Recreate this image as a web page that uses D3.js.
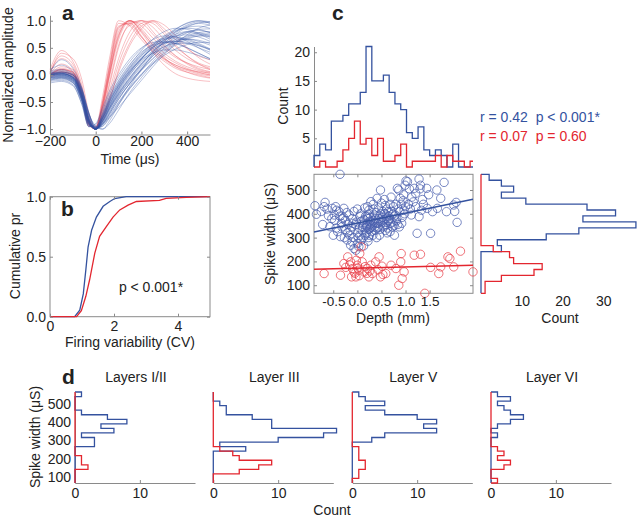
<!DOCTYPE html>
<html><head><meta charset="utf-8">
<script src="https://cdn.jsdelivr.net/npm/d3@7"></script>
<style>
body{margin:0;background:#fff;}
svg{display:block;font-family:"Liberation Sans",Arial,sans-serif;}
</style></head><body>
<svg id="fig" width="640" height="519"></svg>
<script>
// ---------------- DATA ----------------
const waveTimes = [-200,-150,-100,-60,-30,0,30,60,100,150,200,250,300,350,400,450,500];
const blueWaves = [
[0.00,0.02,-0.05,-0.40,-0.85,-1.00,-0.80,-0.55,-0.25,0.05,0.30,0.50,0.65,0.75,0.80,0.78,0.72],
[-0.05,-0.03,-0.10,-0.45,-0.90,-0.98,-0.85,-0.62,-0.35,-0.05,0.20,0.42,0.60,0.72,0.78,0.76,0.70],
[0.05,0.05,0.00,-0.30,-0.75,-1.00,-0.90,-0.70,-0.40,-0.10,0.15,0.38,0.58,0.75,0.88,0.95,0.92],
[-0.10,-0.08,-0.15,-0.50,-0.95,-0.95,-0.75,-0.45,-0.15,0.15,0.40,0.58,0.68,0.70,0.66,0.58,0.48],
[0.00,0.05,0.00,-0.35,-0.80,-1.00,-0.88,-0.65,-0.38,-0.12,0.10,0.30,0.48,0.62,0.72,0.78,0.80],
[-0.02,0.00,-0.08,-0.42,-0.88,-1.00,-0.78,-0.50,-0.20,0.10,0.35,0.55,0.72,0.85,0.95,1.00,0.98],
[0.08,0.10,0.02,-0.25,-0.70,-0.98,-0.95,-0.80,-0.55,-0.25,0.00,0.25,0.45,0.60,0.70,0.75,0.76],
[-0.08,-0.05,-0.12,-0.48,-0.92,-0.96,-0.70,-0.40,-0.10,0.20,0.42,0.55,0.60,0.58,0.50,0.40,0.30],
[0.02,0.03,-0.04,-0.38,-0.82,-1.00,-0.85,-0.60,-0.30,0.00,0.28,0.52,0.70,0.82,0.86,0.84,0.78],
[-0.05,-0.02,-0.08,-0.40,-0.86,-1.00,-0.82,-0.58,-0.28,0.02,0.25,0.45,0.58,0.65,0.66,0.62,0.55],
[0.00,0.00,-0.06,-0.36,-0.84,-0.99,-0.90,-0.72,-0.45,-0.15,0.10,0.35,0.55,0.70,0.80,0.82,0.78],
[-0.12,-0.10,-0.18,-0.55,-0.96,-0.92,-0.65,-0.35,-0.05,0.25,0.48,0.65,0.72,0.70,0.62,0.50,0.38],
[0.03,0.06,-0.02,-0.32,-0.78,-1.00,-0.92,-0.75,-0.50,-0.22,0.02,0.22,0.40,0.55,0.66,0.72,0.74],
[-0.04,-0.02,-0.10,-0.44,-0.90,-1.00,-0.80,-0.52,-0.22,0.08,0.32,0.52,0.68,0.80,0.88,0.90,0.86],
[0.00,0.02,-0.04,-0.30,-0.72,-0.96,-1.00,-0.85,-0.55,-0.20,0.10,0.38,0.62,0.80,0.92,0.98,0.96],
[-0.06,-0.04,-0.12,-0.46,-0.90,-0.98,-0.78,-0.50,-0.18,0.12,0.36,0.52,0.60,0.62,0.58,0.50,0.42],
[0.04,0.04,-0.03,-0.34,-0.80,-1.00,-0.86,-0.64,-0.36,-0.08,0.18,0.42,0.62,0.78,0.90,0.96,0.98],
[-0.02,0.00,-0.07,-0.40,-0.85,-1.00,-0.84,-0.60,-0.32,-0.04,0.22,0.40,0.52,0.58,0.58,0.54,0.48],
[0.00,0.01,-0.05,-0.38,-0.84,-1.00,-0.82,-0.56,-0.26,0.04,0.30,0.50,0.64,0.72,0.74,0.70,0.62],
[-0.08,-0.06,-0.14,-0.50,-0.93,-0.97,-0.74,-0.46,-0.16,0.14,0.38,0.56,0.66,0.68,0.64,0.56,0.46],
[0.06,0.08,0.00,-0.28,-0.74,-0.98,-0.94,-0.78,-0.52,-0.24,0.00,0.20,0.36,0.48,0.56,0.60,0.60],
[0.02,0.03,-0.05,-0.38,-0.82,-1.00,-0.88,-0.68,-0.42,-0.16,0.08,0.30,0.50,0.66,0.78,0.84,0.85],
[-0.03,-0.01,-0.08,-0.42,-0.87,-1.00,-0.80,-0.54,-0.24,0.06,0.30,0.48,0.58,0.62,0.60,0.54,0.46],
[0.00,0.02,-0.04,-0.36,-0.82,-1.00,-0.86,-0.62,-0.34,-0.06,0.20,0.44,0.66,0.84,0.96,1.00,0.95],
[0.05,0.28,0.12,-0.25,-0.70,-0.98,-0.92,-0.72,-0.45,-0.15,0.12,0.35,0.52,0.62,0.66,0.64,0.58],
[-0.15,-0.12,-0.20,-0.55,-0.95,-0.90,-0.60,-0.30,0.00,0.30,0.50,0.60,0.62,0.58,0.50,0.40,0.30],
[0.00,0.03,-0.06,-0.40,-0.86,-1.00,-0.90,-0.78,-0.60,-0.35,-0.10,0.15,0.38,0.58,0.74,0.86,0.92],
[-0.06,-0.04,-0.10,-0.45,-0.88,-0.99,-0.72,-0.42,-0.12,0.18,0.45,0.66,0.80,0.86,0.84,0.76,0.66],
[0.10,0.18,0.05,-0.28,-0.72,-0.94,-1.00,-0.90,-0.65,-0.32,-0.05,0.20,0.42,0.58,0.68,0.72,0.70],
[-0.10,-0.06,-0.14,-0.48,-0.92,-1.00,-0.76,-0.48,-0.20,0.08,0.28,0.40,0.46,0.46,0.42,0.36,0.28]
];
const redWaves = [
[0.00,0.10,0.05,-0.35,-0.85,-1.00,-0.60,0.00,0.75,1.00,0.85,0.60,0.40,0.25,0.15,0.08,0.02],
[0.05,0.35,0.20,-0.30,-0.90,-0.98,-0.50,0.15,0.90,0.95,0.70,0.45,0.28,0.15,0.08,0.02,-0.02],
[0.00,0.05,0.00,-0.40,-0.92,-1.00,-0.70,-0.20,0.50,0.95,1.00,0.80,0.55,0.35,0.20,0.10,0.05],
[0.10,0.45,0.25,-0.20,-0.80,-1.00,-0.55,0.10,0.85,1.00,0.80,0.55,0.35,0.22,0.12,0.05,0.00],
[-0.02,0.05,0.00,-0.45,-0.95,-0.95,-0.40,0.30,1.00,0.90,0.65,0.42,0.25,0.12,0.05,0.00,-0.05],
[0.00,0.15,0.10,-0.30,-0.82,-1.00,-0.75,-0.30,0.30,0.80,1.00,0.95,0.75,0.52,0.35,0.22,0.15],
[0.02,0.20,0.08,-0.35,-0.88,-1.00,-0.62,0.00,0.70,1.00,0.90,0.68,0.48,0.32,0.22,0.15,0.10],
[0.00,0.08,0.02,-0.38,-0.90,-0.98,-0.55,0.05,0.80,1.00,0.82,0.55,0.32,0.15,0.05,-0.02,-0.06],
[0.05,0.30,0.15,-0.25,-0.78,-1.00,-0.80,-0.40,0.20,0.70,0.95,1.00,0.85,0.65,0.48,0.35,0.28],
[0.00,0.10,0.05,-0.40,-0.90,-1.00,-0.65,-0.05,0.65,0.98,0.95,0.75,0.52,0.35,0.22,0.12,0.06],
[-0.05,0.02,-0.02,-0.45,-0.94,-0.96,-0.48,0.20,0.95,0.92,0.70,0.48,0.30,0.18,0.10,0.06,0.04],
[0.00,0.12,0.06,-0.32,-0.84,-1.00,-0.70,-0.15,0.55,0.92,1.00,0.88,0.65,0.45,0.30,0.20,0.12],
[0.02,0.40,0.30,-0.10,-0.70,-1.00,-0.85,-0.50,0.10,0.60,0.90,0.98,0.80,0.55,0.35,0.20,0.10],
[0.00,0.06,0.02,-0.38,-0.88,-1.00,-0.58,0.02,0.72,1.00,0.78,0.50,0.30,0.18,0.10,0.04,0.00],
[0.00,0.10,0.04,-0.36,-0.86,-1.00,-0.78,-0.45,0.05,0.55,0.85,1.00,0.92,0.72,0.50,0.32,0.20],
[-0.04,0.05,0.00,-0.42,-0.92,-1.00,-0.52,0.12,0.88,0.96,0.72,0.42,0.18,0.02,-0.06,-0.10,-0.12]
];

const cdfBlue = [[0,0],[0.77,0],[0.93,0.055],[1.04,0.19],[1.12,0.39],[1.19,0.58],[1.30,0.72],[1.45,0.83],[1.66,0.92],[1.87,0.96],[2.02,0.985],[2.38,1.0],[5,1.0]];
const cdfRed = [[0,0],[0.83,0],[0.98,0.05],[1.12,0.17],[1.24,0.31],[1.40,0.53],[1.55,0.67],[1.76,0.75],[1.97,0.83],[2.18,0.89],[2.44,0.93],[2.70,0.96],[3.42,0.97],[3.63,0.986],[4.26,0.994],[5,1.0]];

const depthBinStart = -0.9, depthBinWidth = 0.12;
const depthCountsBlue = [2,4,3,8,8,9,11,11,13,21,15,15,16,13,11,10,6,5,7,3,2,3,2,0,4,0,0,0];
const depthCountsRed  = [0,1,0,0,1,3,5,8,4,5,2,5,1,1,2,4,0,1,1,1,1,2,0,2,1,1,0,1];

const widthBinStart = 66, widthBinWidth = 25; // 20 bins, ascending
const widthCountsBlue = [0,0,0,0,0,0,0,5,4,16,24,38,25,33,26,11,5,8,5,2];
const widthCountsRed  = [1,1,5,13,15,8,7,3,0,0,0,0,0,0,0,0,0,0,0,0];

const layerNames = ["Layers I/II","Layer III","Layer V","Layer VI"];
const layerBlue = [
[0,0,0,0,0,0,0,0,3,3,1,6,4,8,5,1,0,0,0,1],
[0,0,0,0,0,0,0,5,1,10,17,19,9,9,6,2,2,1,0,0],
[0,0,0,0,0,0,0,0,0,3,5,13,11,13,10,5,2,5,2,1],
[0,0,0,0,0,0,0,0,0,0,1,0,1,3,5,3,2,1,3,1]
];
const layerRed = [
[0,0,0,2,1,1,0,0,0,0,0,0,0,0,0,0,0,0,0,0],
[0,0,4,7,9,4,3,1,0,0,0,0,0,0,0,0,0,0,0,0],
[0,1,1,2,2,1,1,1,0,0,0,0,0,0,0,0,0,0,0,0],
[1,0,0,2,3,1,2,1,0,0,0,0,0,0,0,0,0,0,0,0]
];

const scatterBlue = [
[-0.88,434],[-0.85,398],
[-0.72,355],[-0.69,430],[-0.67,448],[-0.75,410],
[-0.60,392],[-0.57,346],[-0.63,420],
[-0.52,423],[-0.50,310],[-0.48,395],[-0.45,430],[-0.47,372],[-0.44,340],[-0.53,380],[-0.43,415],
[-0.41,325],[-0.38,409],[-0.35,304],[-0.33,360],[-0.31,380],[-0.36,566],[-0.36,390],[-0.32,345],
[-0.28,423],[-0.24,332],[-0.21,290],[-0.27,300],[-0.25,372],[-0.22,405],[-0.19,355],[-0.29,385],[-0.20,320],
[-0.14,268],[-0.07,254],[-0.16,310],[-0.12,345],[-0.10,380],[-0.08,300],[-0.17,395],[-0.11,282],[-0.09,360],[-0.15,330],[-0.07,410],
[0.00,275],[-0.03,247],[0.02,300],[0.04,340],[-0.02,365],[0.01,320],[0.05,390],[-0.04,355],[0.03,262],[0.00,420],[0.05,310],
[0.08,290],[0.10,330],[0.12,355],[0.14,375],[0.16,310],[0.07,400],[0.11,345],[0.13,265],[0.15,425],[0.09,370],[0.17,340],[0.12,300],[0.17,390],
[0.19,320],[0.20,345],[0.21,360],[0.22,380],[0.23,300],[0.24,335],[0.25,400],[0.26,355],[0.27,370],[0.28,451],[0.29,325],[0.20,390],[0.22,285],[0.24,415],[0.26,340],[0.28,365],[0.19,350],[0.21,430],[0.25,310],[0.27,385],[0.29,345],
[0.31,350],[0.33,372],[0.35,395],[0.37,330],[0.39,360],[0.41,465],[0.32,310],[0.34,420],[0.36,345],[0.38,380],[0.40,300],[0.33,440],[0.35,365],[0.39,405],[0.41,340],
[0.43,360],[0.45,380],[0.48,500],[0.47,335],[0.49,400],[0.51,370],[0.53,350],[0.44,425],[0.46,310],[0.50,445],[0.52,385],[0.44,345],[0.48,365],[0.53,410],[0.46,390],
[0.55,375],[0.57,400],[0.59,355],[0.61,420],[0.63,340],[0.65,390],[0.56,460],[0.58,330],[0.60,380],[0.62,365],[0.64,410],[0.55,345],[0.58,435],[0.62,320],[0.65,370],[0.60,395],
[0.67,380],[0.69,360],[0.71,410],[0.73,345],[0.75,430],[0.77,390],[0.68,325],[0.70,470],[0.72,365],[0.74,400],[0.76,350],[0.68,440],[0.77,310],
[0.79,395],[0.81,370],[0.83,507],[0.85,420],[0.87,345],[0.89,465],[0.80,440],[0.82,380],[0.84,355],[0.86,500],[0.88,410],
[0.91,440],[0.93,385],[0.95,455],[0.97,415],[0.99,520],[1.01,538],[0.92,360],[0.96,480],[0.98,400],[1.00,430],
[1.04,535],[1.06,440],[1.08,505],[1.10,420],[1.12,395],[1.13,470],
[1.18,507],[1.21,486],[1.21,430],[1.24,318],[1.16,450],
[1.28,546],[1.28,388],[1.31,520],[1.33,415],[1.35,460],[1.30,505],[1.37,440],
[1.44,507],[1.45,423],[1.48,480],
[1.52,318],[1.56,409],
[1.65,500],[1.66,423],[1.73,465],
[1.80,532],[1.85,409],
[2.00,437],[2.07,364],[2.02,410],[2.05,448]
];
const scatterRed = [
[-0.69,149],[-0.35,142],
[-0.28,191],[-0.24,175],[-0.20,219],
[-0.14,198],[-0.10,170],[-0.07,156],[-0.16,185],[-0.12,135],
[-0.03,135],[0.00,184],[0.03,163],[-0.05,150],[0.05,233],[0.01,172],[-0.02,205],[0.04,140],
[0.10,198],[0.14,156],[0.08,261],[0.16,178],
[0.21,170],[0.24,135],[0.28,184],[0.20,150],[0.26,160],
[0.31,149],[0.38,198],
[0.45,219],[0.48,135],[0.43,165],[0.51,180],[0.53,145],
[0.59,149],[0.70,184],[0.80,170],[0.86,100],
[0.90,198],[0.91,233],[0.93,128],[0.97,156],
[1.18,226],[1.31,230],[1.40,66],[1.52,175],
[1.69,149],[1.73,177],[1.88,219],[1.92,212],[2.00,177],[2.14,243],[2.40,156]
];
const fitBlue = {slope: 41.8, intercept: 361};
const fitRed  = {slope: 5.2, intercept: 171.6};
const statBlue = "r = 0.42  p < 0.001*";
const statRed  = "r = 0.07  p = 0.60";

// ---------------- STYLE ----------------
const BLUE = "#34529f", RED = "#e3262f", AX = "#8a8a8a", TXT = "#222";
const FS = 14;
const svg = d3.select("#fig");

function styleAxis(g, opts={}) {
  g.selectAll(".domain").attr("stroke", opts.noDomain ? "none" : AX).attr("stroke-width",1);
  g.selectAll(".tick line").attr("stroke", AX);
  g.selectAll("text").attr("fill", TXT).attr("font-size", opts.fs || FS)
    .attr("font-family",'"Liberation Sans",Arial,sans-serif');
  return g;
}
function label(x, y, txt, opts={}) {
  const t = svg.append("text").attr("x", x).attr("y", y).text(txt)
    .attr("font-size", opts.fs || FS).attr("fill", opts.fill || TXT)
    .attr("text-anchor", opts.anchor || "middle")
    .style("white-space","pre");
  if (opts.bold) t.attr("font-weight", "bold");
  if (opts.rot) t.attr("transform", `rotate(-90,${x},${y})`);
  return t;
}
const fmt1 = d3.format(".1f");
const fmt0 = d3.format("d");
const fmtHy = d => d3.format(".1f")(d).replace("\u2212","-");

// ---------------- PANEL A ----------------
{
  const x = d3.scaleLinear().domain([-200, 500]).range([50, 210]);
  const y = d3.scaleLinear().domain([-1.1, 1.1]).range([134.5, 15.3]);
  const line = d3.line().x((d,i)=>x(waveTimes[i])).y(d=>y(d)).curve(d3.curveMonotoneX);
  const g = svg.append("g");
  g.selectAll("path.r").data(redWaves).join("path").attr("d", line)
    .attr("fill","none").attr("stroke", "#ea4a55").attr("stroke-width",0.7).attr("opacity",0.5);
  g.selectAll("path.b").data(blueWaves).join("path").attr("d", line)
    .attr("fill","none").attr("stroke", "#2f4fa3").attr("stroke-width",0.7).attr("opacity",0.5);
  styleAxis(svg.append("g").attr("transform","translate(50,0)")
    .call(d3.axisLeft(y).tickValues([-1,-0.5,0,0.5,1]).tickFormat(fmt1).tickSizeInner(-3).tickSizeOuter(0).tickPadding(4)));
  styleAxis(svg.append("g").attr("transform","translate(0,134.5)")
    .call(d3.axisBottom(x).tickValues([-200,0,200,400]).tickFormat(fmt0).tickSizeInner(-3).tickSizeOuter(0).tickPadding(2)));
  label(130, 164, "Time (μs)");
  label(13, 75, "Normalized amplitude", {rot:true});
  label(62, 20, "a", {bold:true, fs:21, anchor:"start"});
}

// ---------------- PANEL B ----------------
{
  const x = d3.scaleLinear().domain([0, 5]).range([50, 210]);
  const y = d3.scaleLinear().domain([0, 1]).range([316.7, 196.7]);
  svg.append("rect").attr("x",50).attr("y",196.7).attr("width",160).attr("height",120)
    .attr("fill","none").attr("stroke",AX);
  const line = d3.line().x(d=>x(d[0])).y(d=>y(d[1]));
  svg.append("path").attr("d", line(cdfBlue)).attr("fill","none").attr("stroke",BLUE).attr("stroke-width",1.3);
  svg.append("path").attr("d", line(cdfRed)).attr("fill","none").attr("stroke",RED).attr("stroke-width",1.3);
  styleAxis(svg.append("g").attr("transform","translate(50,0)")
    .call(d3.axisLeft(y).tickValues([0,0.5,1]).tickFormat(fmt1).tickSizeInner(-3).tickSizeOuter(0).tickPadding(4)), {noDomain:true});
  styleAxis(svg.append("g").attr("transform","translate(210,0)")
    .call(d3.axisRight(y).tickValues([0,0.5,1]).tickFormat("").tickSizeInner(-3).tickSizeOuter(0)), {noDomain:true});
  styleAxis(svg.append("g").attr("transform","translate(0,316.7)")
    .call(d3.axisBottom(x).tickValues([0,2,4]).tickFormat(fmt0).tickSizeInner(-3).tickSizeOuter(0).tickPadding(4)), {noDomain:true});
  styleAxis(svg.append("g").attr("transform","translate(0,196.7)")
    .call(d3.axisTop(x).tickValues([0,2,4]).tickFormat("").tickSizeInner(-3).tickSizeOuter(0)), {noDomain:true});
  label(151, 292, "p < 0.001*");
  label(130, 347, "Firing variability (CV)");
  label(20, 256, "Cumulative pr", {rot:true});
  label(61, 216, "b", {bold:true, fs:21, anchor:"start"});
}

// ---------------- PANEL C ----------------
const xs = d3.scaleLinear().domain([-0.9, 2.4]).range([314, 473]);
const ys = d3.scaleLinear().domain([66, 566]).range([293.3, 174.3]);
{
  // top histogram
  const yc = d3.scaleLinear().domain([0, 21]).range([167, 46.5]);
  const maxD = xs.domain()[1];
  function stairsV(counts) {
    const pts = [[depthBinStart, 0]];
    counts.forEach((c,i)=>{
      const a = depthBinStart + i*depthBinWidth, b = Math.min(maxD, a + depthBinWidth);
      pts.push([a, c], [b, c]);
    });
    return pts;
  }
  const lineV = d3.line().x(d=>xs(d[0])).y(d=>yc(d[1]));
  styleAxis(svg.append("g").attr("transform","translate(314,0)")
    .call(d3.axisLeft(yc).tickValues([5,10,15,20]).tickSizeInner(-3).tickSizeOuter(0).tickPadding(4)));
  svg.append("path").attr("d", lineV(stairsV(depthCountsBlue))).attr("fill","none").attr("stroke",BLUE).attr("stroke-width",1.3);
  svg.append("path").attr("d", lineV(stairsV(depthCountsRed))).attr("fill","none").attr("stroke",RED).attr("stroke-width",1.3);
  label(288, 106, "Count", {rot:true});

  // scatter
  svg.append("rect").attr("x",314).attr("y",174.3).attr("width",159).attr("height",119)
    .attr("fill","none").attr("stroke",AX);
  svg.append("g").selectAll("circle").data(scatterBlue).join("circle")
    .attr("cx",d=>xs(d[0])).attr("cy",d=>ys(d[1])).attr("r",4.2)
    .attr("fill","none").attr("stroke","#4a5fae").attr("stroke-width",0.75);
  svg.append("g").selectAll("circle").data(scatterRed).join("circle")
    .attr("cx",d=>xs(d[0])).attr("cy",d=>ys(d[1])).attr("r",4.2)
    .attr("fill","none").attr("stroke","#e8434c").attr("stroke-width",0.75);
  const dd = xs.domain();
  [[fitBlue,BLUE],[fitRed,RED]].forEach(([f,c])=>{
    svg.append("line").attr("x1",xs(dd[0])).attr("x2",xs(dd[1]))
      .attr("y1",ys(f.intercept+f.slope*dd[0])).attr("y2",ys(f.intercept+f.slope*dd[1]))
      .attr("stroke",c).attr("stroke-width",1.4);
  });
  styleAxis(svg.append("g").attr("transform","translate(314,0)")
    .call(d3.axisLeft(ys).tickValues([100,200,300,400,500]).tickSizeInner(-3).tickSizeOuter(0).tickPadding(4)), {noDomain:true});
  styleAxis(svg.append("g").attr("transform","translate(473,0)")
    .call(d3.axisRight(ys).tickValues([100,200,300,400,500]).tickFormat("").tickSizeInner(-3).tickSizeOuter(0)), {noDomain:true});
  styleAxis(svg.append("g").attr("transform","translate(0,293.3)")
    .call(d3.axisBottom(xs).tickValues([-0.5,0,0.5,1,1.5]).tickFormat(fmtHy).tickSizeInner(-3).tickSizeOuter(0).tickPadding(3)), {noDomain:true, fs:13.5});
  styleAxis(svg.append("g").attr("transform","translate(0,174.3)")
    .call(d3.axisTop(xs).tickValues([-0.5,0,0.5,1,1.5]).tickFormat("").tickSizeInner(-3).tickSizeOuter(0)), {noDomain:true});
  label(393, 323, "Depth (mm)");
  label(275, 234, "Spike width (μS)", {rot:true});

  // right histogram
  const xc = d3.scaleLinear().domain([0, 39]).range([481, 640]);
  function stairsH(counts) {
    const pts = [[0, widthBinStart]];
    counts.forEach((c,i)=>{
      const a = widthBinStart + i*widthBinWidth, b = a + widthBinWidth;
      pts.push([c, a], [c, b]);
    });
    pts.push([0, widthBinStart + counts.length*widthBinWidth]);
    return pts;
  }
  const lineH = d3.line().x(d=>xc(d[0])).y(d=>ys(d[1]));
  svg.append("path").attr("d", lineH(stairsH(widthCountsBlue))).attr("fill","none").attr("stroke",BLUE).attr("stroke-width",1.3);
  svg.append("path").attr("d", lineH(stairsH(widthCountsRed))).attr("fill","none").attr("stroke",RED).attr("stroke-width",1.3);
  styleAxis(svg.append("g").attr("transform","translate(0,293.3)")
    .call(d3.axisBottom(xc).tickValues([10,20,30]).tickSize(0).tickPadding(3)), {noDomain:true});
  label(560, 323, "Count");

  label(480, 122, statBlue, {fill:BLUE, anchor:"start"});
  label(480, 141, statRed, {fill:RED, anchor:"start"});
  label(332, 20, "c", {bold:true, fs:21, anchor:"start"});
}

// ---------------- PANEL D ----------------
{
  const yd = d3.scaleLinear().domain([66, 566]).range([483, 392]);
  const x0s = [75, 213.3, 352.3, 491];
  function stairsH(counts) {
    const pts = [[0, widthBinStart]];
    counts.forEach((c,i)=>{
      const a = widthBinStart + i*widthBinWidth, b = a + widthBinWidth;
      pts.push([c, a], [c, b]);
    });
    pts.push([0, widthBinStart + counts.length*widthBinWidth]);
    return pts;
  }
  layerNames.forEach((nm, k)=>{
    const xd = d3.scaleLinear().domain([0, 18.5]).range([x0s[k], x0s[k]+120]);
    const lineH = d3.line().x(d=>xd(d[0])).y(d=>yd(d[1]));
    styleAxis(svg.append("g").attr("transform","translate(0,483)")
      .call(d3.axisBottom(xd).tickValues([0,10]).tickFormat(fmt0).tickSizeInner(-3).tickSizeOuter(0).tickPadding(5)));
    if (k === 0) {
      styleAxis(svg.append("g").attr("transform",`translate(${x0s[k]},0)`)
        .call(d3.axisLeft(yd).tickValues([100,200,300,400,500]).tickSize(0).tickPadding(4)));
    }
    svg.append("path").attr("d", lineH(stairsH(layerBlue[k]))).attr("fill","none").attr("stroke",BLUE).attr("stroke-width",1.3);
    svg.append("path").attr("d", lineH(stairsH(layerRed[k]))).attr("fill","none").attr("stroke",RED).attr("stroke-width",1.3);
    label(x0s[k] + 61, 382, nm);
  });
  label(332, 515, "Count");
  label(40, 437, "Spike width (μS)", {rot:true});
  label(62, 384, "d", {bold:true, fs:21, anchor:"start"});
}
</script>
</body></html>
